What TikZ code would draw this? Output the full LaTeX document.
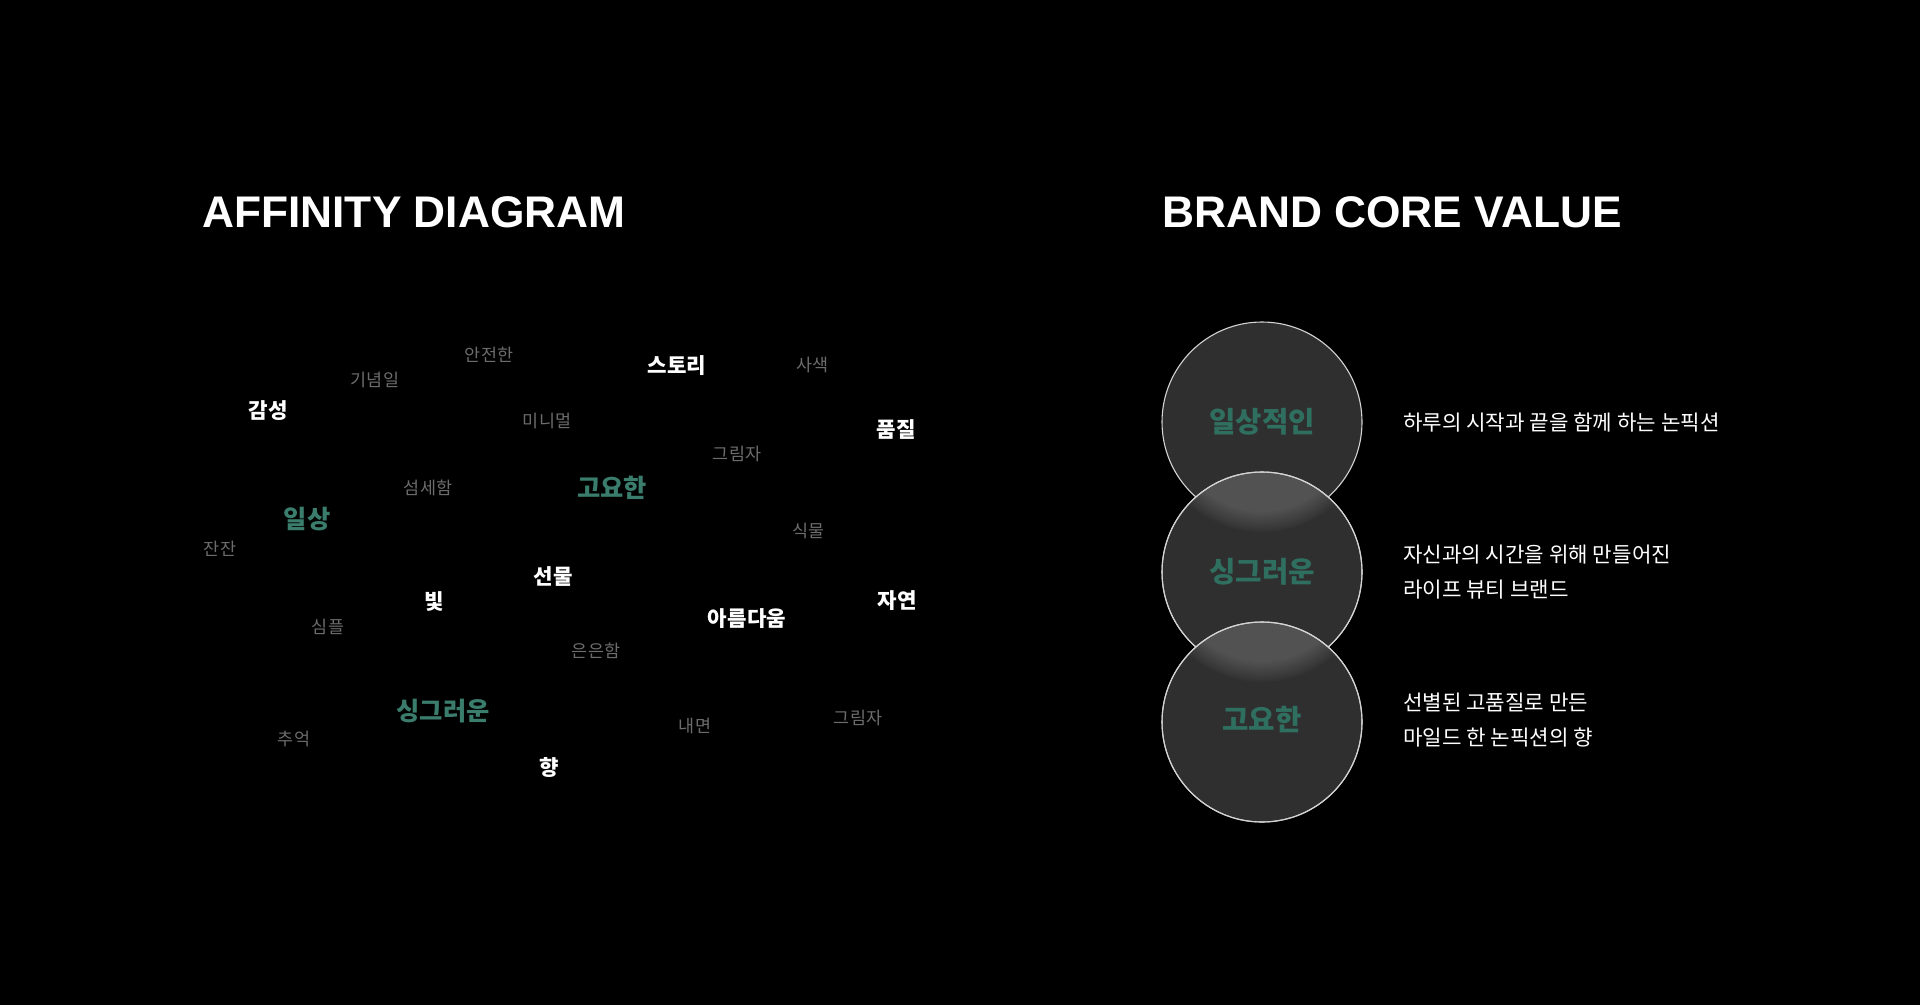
\documentclass[tikz,border=0pt]{standalone}
\usepackage{fontspec}
\setmainfont{Liberation Sans}
\newfontfamily\krfont{Noto Sans CJK KR}
\definecolor{wordgray}{HTML}{6C6C6C}
\definecolor{wordgreen}{HTML}{3B7D6C}
\definecolor{coregreen}{HTML}{2F6F60}
\definecolor{corefill}{HTML}{2F2F2F}
\definecolor{coreline}{HTML}{D4D4D4}

\begin{document}
\begin{tikzpicture}[x=1pt, y=-1pt,
  heading/.style={anchor=west, inner sep=0pt, text=white, font=\bfseries\fontsize{44.3}{50}\selectfont},
  grayword/.style={inner sep=0pt, text=wordgray, font=\krfont\fontsize{17.4}{20}\selectfont},
  whiteword/.style={inner sep=0pt, text=white, font=\krfont\bfseries\fontsize{21.2}{24}\selectfont},
  greenword/.style={inner sep=0pt, text=wordgreen, font=\krfont\bfseries\fontsize{25.3}{29}\selectfont},
  core/.style={circle, minimum size=200pt, inner sep=0pt, fill=corefill, draw=coreline, line width=1.1pt},
  corelabel/.style={inner sep=0pt, text=coregreen, font=\krfont\bfseries\fontsize{28.7}{33}\selectfont},
  desc/.style={anchor=west, inner sep=0pt, align=left, text=white, font=\krfont\fontsize{21.2}{35.5}\selectfont}]
  % Background
  \fill[black] (0,0) rectangle (1920,1005);
  % Headings
  \node[heading] (affinity) at (202,212) {AFFINITY DIAGRAM};
  \node[heading] (brand) at (1162,212) {BRAND CORE VALUE};
  % Affinity words, green
  \node[greenword] (ilsang) at (307,519) {일상};
  \node[greenword] (goyohan) at (612,488) {고요한};
  \node[greenword] (singgeureoun) at (443,711) {싱그러운};
  % Affinity words, white
  \node[whiteword] (gamseong) at (268,411) {감성};
  \node[whiteword] (story) at (677,366) {스토리};
  \node[whiteword] (pumjil) at (896,430) {품질};
  \node[whiteword] (seonmul) at (553,577) {선물};
  \node[whiteword] (bit) at (434,602) {빛};
  \node[whiteword] (jayeon) at (897,601) {자연};
  \node[whiteword] (areumdaum) at (747,619) {아름다움};
  \node[whiteword] (hyang) at (549,768) {향};
  % Affinity words, gray
  \node[grayword] (anjeon) at (489,355) {안전한};
  \node[grayword] (ginyeom) at (375,380) {기념일};
  \node[grayword] (sasaek) at (812,365) {사색};
  \node[grayword] (minimal) at (547,421) {미니멀};
  \node[grayword] (geurimja) at (737,454) {그림자};
  \node[grayword] (seomse) at (428,488) {섬세함};
  \node[grayword] (sikmul) at (808,531) {식물};
  \node[grayword] (janjan) at (220,549) {잔잔};
  \node[grayword] (simple) at (328,627) {심플};
  \node[grayword] (euneun) at (596,651) {은은함};
  \node[grayword] (geurimja2) at (858,718) {그림자};
  \node[grayword] (naemyeon) at (695,726) {내면};
  \node[grayword] (chueok) at (294,739) {추억};
  % Core value circles
  \node[core] (c1) at (1262,422) {};
  \node[core] (c2) at (1262,572) {};
  \begin{scope}
    \clip (c2.center) circle (100pt);
    \foreach \r in {110,108,...,90}
      \fill[white, opacity=0.02] (c1.center) circle (\r pt);
  \end{scope}
  \draw[coreline, line width=1.1pt] (c2.center) circle (100pt);
  \node[core] (c3) at (1262,722) {};
  \begin{scope}
    \clip (c3.center) circle (100pt);
    \foreach \r in {110,108,...,90}
      \fill[white, opacity=0.02] (c2.center) circle (\r pt);
  \end{scope}
  \draw[coreline, line width=1.1pt] (c3.center) circle (100pt);
  % Circle labels
  \node[corelabel] (l1) at (c1.center) {일상적인};
  \node[corelabel] (l2) at (c2.center) {싱그러운};
  \node[corelabel] (l3) at (1262,720) {고요한};
  % Descriptions
  \node[desc] (d1) at (1403,422) {하루의 시작과 끝을 함께 하는 논픽션};
  \node[desc] (d2) at (1403,572) {자신과의 시간을 위해 만들어진\\라이프 뷰티 브랜드};
  \node[desc] (d3) at (1403,720) {선별된 고품질로 만든\\마일드 한 논픽션의 향};
\end{tikzpicture}
\end{document}
